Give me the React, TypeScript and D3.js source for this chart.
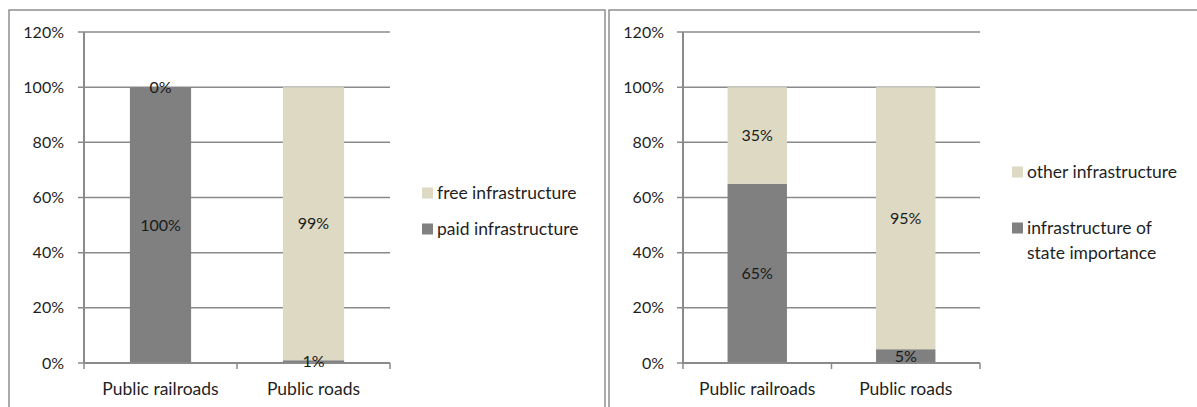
import React from "react";
import * as d3 from "d3";

const categories = ["Public railroads", "Public roads"];
const yTicks = [0, 0.2, 0.4, 0.6, 0.8, 1.0, 1.2];

// Left chart
const paidValues = [1.0, 0.01];
const freeValues = [0.0, 0.99];
const leftLegend = [["free infrastructure"], ["paid infrastructure"]];

// Right chart
const stateValues = [0.65, 0.05];
const otherValues = [0.35, 0.95];
const rightLegend = [["other infrastructure"], ["infrastructure of", "state importance"]];

const DARK = "#808080";
const LIGHT = "#ddd9c3";
const GRID = "#8a8a8a";
const FONT = "Lato, 'Open Sans', sans-serif";
const FS = 16;
const FS_TXT = 17.5;

type PanelProps = {
  frameX: number;
  frameW: number;
  plotX0: number;
  plotX1: number;
  labelX: number;
  bottom: number[];
  top: number[];
  legend: string[][];
  legendX: number;
  legendYs: number[];
};

function Panel(p: PanelProps) {
  const y = d3.scaleLinear().domain([0, 1.2]).range([363, 32]);
  const x = d3.scaleBand().domain(categories).range([p.plotX0, p.plotX1]).paddingInner(0.6).paddingOuter(0.3);
  const band = d3.scaleBand().domain(categories).range([p.plotX0, p.plotX1]);
  const fmt = d3.format(".0%");
  const series = [
    { values: p.bottom, color: DARK },
    { values: p.top, color: LIGHT },
  ];
  const stacks = categories.map((_, i) => {
    let acc = 0;
    return series.map((s) => {
      const y0 = acc;
      acc += s.values[i];
      return { y0, y1: acc, v: s.values[i], color: s.color };
    });
  });
  return (
    <g>
      <rect x={p.frameX} y={10} width={p.frameW} height={420} fill="#fff" stroke="#8f8f8f" strokeWidth={1.5} />
      {yTicks.map((t) => (
        <g key={t}>
          <line x1={p.plotX0 - 6} x2={p.plotX1} y1={y(t)} y2={y(t)} stroke={GRID} strokeWidth={1.5} />
          <text x={p.labelX} y={y(t)} dy="0.35em" textAnchor="end" fontFamily={FONT} fontSize={FS} fill="#1f1f1f">
            {fmt(t)}
          </text>
        </g>
      ))}
      {categories.map((c, i) => (
        <g key={c}>
          {stacks[i].map((s, j) => (
            <rect key={j} x={x(c)} width={x.bandwidth()} y={y(s.y1)} height={y(s.y0) - y(s.y1)} fill={s.color} />
          ))}
        </g>
      ))}
      <line x1={p.plotX0} x2={p.plotX0} y1={y(1.2)} y2={y(0)} stroke={GRID} strokeWidth={2} />
      <line x1={p.plotX0} x2={p.plotX1} y1={y(0)} y2={y(0)} stroke={GRID} strokeWidth={2} />
      {[p.plotX0, p.plotX0 + band.bandwidth(), p.plotX1].map((tx, i) => (
        <line key={i} x1={tx} x2={tx} y1={y(0)} y2={y(0) + 6} stroke={GRID} strokeWidth={1.5} />
      ))}
      {categories.map((c, i) => (
        <g key={c + "l"}>
          {stacks[i].map((s, j) => (
            <text key={j} x={(x(c) as number) + x.bandwidth() / 2} y={y((s.y0 + s.y1) / 2)} dy="0.35em"
              textAnchor="middle" fontFamily={FONT} fontSize={FS} fill="#1a1a1a">
              {fmt(s.v)}
            </text>
          ))}
          <text x={(band(c) as number) + band.bandwidth() / 2} y={389} dy="0.35em" textAnchor="middle"
            fontFamily={FONT} fontSize={FS_TXT} fill="#1f1f1f">
            {c}
          </text>
        </g>
      ))}
      {p.legend.map((lines, i) => (
        <g key={i}>
          <rect x={p.legendX} y={p.legendYs[i] - 5.5} width={11} height={11} fill={i === 0 ? LIGHT : DARK} />
          {lines.map((ln, k) => (
            <text key={k} x={p.legendX + 15} y={p.legendYs[i] + k * 25} dy="0.35em" fontFamily={FONT}
              fontSize={FS_TXT} fill="#1f1f1f">
              {ln}
            </text>
          ))}
        </g>
      ))}
    </g>
  );
}

export default function App() {
  return (
    <svg width={1197} height={407} style={{ position: "absolute", left: 0, top: 0 }}>
      <rect width={1197} height={407} fill="#fff" />
      <Panel frameX={9} frameW={596} plotX0={84} plotX1={390} labelX={64} bottom={paidValues} top={freeValues}
        legend={leftLegend} legendX={422} legendYs={[193, 229]} />
      <Panel frameX={609} frameW={620} plotX0={683} plotX1={980} labelX={664} bottom={stateValues} top={otherValues}
        legend={rightLegend} legendX={1012} legendYs={[172, 228]} />
    </svg>
  );
}
